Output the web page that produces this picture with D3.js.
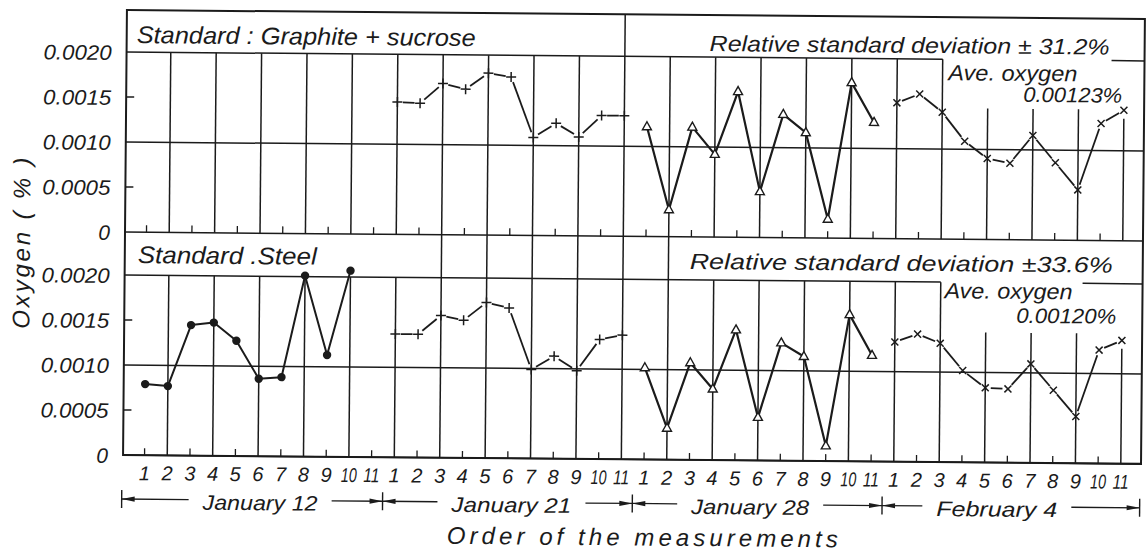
<!DOCTYPE html>
<html>
<head>
<meta charset="utf-8">
<script src="https://cdn.jsdelivr.net/npm/d3@7"></script>
<style>
  body { margin: 0; background: #fff; }
  text { font-family: "Liberation Sans", Arial, sans-serif; font-style: italic; fill: #1b1b1b; }
</style>
</head>
<body>
<svg id="chart" width="1146" height="552"></svg>
<script>
// ---- values ----
const groupNames = ["January 12", "January 21", "January 28", "February 4"];
const orderLabels = ["1","2","3","4","5","6","7","8","9","10","11"];
const yTickValues = [0, 0.0005, 0.0010, 0.0015, 0.0020];
const yTickLabels = ["0", "0.0005", "0.0010", "0.0015", "0.0020"];

// Standard: graphite + sucrose (top panel), no values on January 12
const graphiteJan21 = [0.00147, 0.00146, 0.00168, 0.00162, 0.00180, 0.00176, 0.00109, 0.00125, 0.00110, 0.00134, 0.00134];
const graphiteJan28 = [0.00122, 0.00030, 0.00122, 0.00092, 0.00162, 0.00051, 0.00137, 0.00117, 0.00021, 0.00173, 0.00129];
const graphiteFeb4  = [0.00151, 0.00161, 0.00141, 0.00109, 0.00090, 0.00085, 0.00116, 0.00086, 0.00056, 0.00130, 0.00145];

// Standard: steel (bottom panel), 11th on January 12 missing
const steelJan12 = [0.00079, 0.00077, 0.00145, 0.00148, 0.00128, 0.00086, 0.00088, 0.00201, 0.00113, 0.00207, null];
const steelJan21 = [0.00137, 0.00137, 0.00158, 0.00153, 0.00173, 0.00167, 0.00099, 0.00114, 0.00098, 0.00133, 0.00138];
const steelJan28 = [0.00102, 0.00035, 0.00108, 0.00079, 0.00145, 0.00048, 0.00131, 0.00116, 0.00017, 0.00163, 0.00118];
const steelFeb4  = [0.00133, 0.00142, 0.00132, 0.00102, 0.00083, 0.00082, 0.00110, 0.00081, 0.00052, 0.00126, 0.00137];

const panelTitles = ["Standard : Graphite + sucrose", "Standard .Steel"];
const deviationTexts = ["Relative standard deviation \u00b1 31.2%", "Relative standard deviation \u00b133.6%"];
const averageTexts = ["0.00123%", "0.00120%"];

// ---- layout ----
const L = 125, R = 1143, T = 10, B = 455;
const ink = "#1b1b1b";
const svg = d3.select("#chart");
svg.append("rect").attr("width", 1146).attr("height", 552).attr("fill", "#fff");

// the scan is turned a little clockwise
const g = svg.append("g").attr("transform", "rotate(0.5,125,232)");

const x = d3.scaleLinear().domain([1, 44]).range([146.5, 1122.8]);
const yTop = d3.scaleLinear().domain([0, 0.002]).range([232, 52]);
const yBot = d3.scaleLinear().domain([0, 0.002]).range([455, 275]);

const seg = (x1, y1, x2, y2, w) => g.append("line")
  .attr("x1", x1).attr("y1", y1).attr("x2", x2).attr("y2", y2)
  .attr("stroke", ink).attr("stroke-width", w || 1.5);

// frame
g.append("rect").attr("x", L).attr("y", T).attr("width", R - L).attr("height", B - T)
  .attr("fill", "none").attr("stroke", ink).attr("stroke-width", 2);

const panels = [
  { y: yTop, resume: 1110, vTop: k => [38, 40, 42].includes(k) ? 101 : k === 44 ? 110 : yTop(0.002),
    series: [
      { group: 1, marker: "plus", values: graphiteJan21 },
      { group: 2, marker: "tri", values: graphiteJan28 },
      { group: 3, marker: "cross", values: graphiteFeb4 } ] },
  { y: yBot, resume: 1083, vTop: k => (k >= 14 && k <= 24) ? 232 : [38, 40, 42].includes(k) ? 325 : k === 44 ? 340 : yBot(0.002),
    series: [
      { group: 0, marker: "dot", values: steelJan12 },
      { group: 1, marker: "plus", values: steelJan21 },
      { group: 2, marker: "tri", values: steelJan28 },
      { group: 3, marker: "cross", values: steelFeb4 } ] }
];

panels.forEach((p, pi) => {
  const y = p.y;
  // horizontal rules
  seg(L, y(0.002), x(36), y(0.002));
  seg(p.resume, y(0.002), R, y(0.002));
  seg(L, y(0.001), R, y(0.001));
  seg(L, y(0), R, y(0));
  [0.0005, 0.0015].forEach(v => seg(L, y(v), L + 8, y(v)));

  // vertical rules at even positions, small ticks at odd ones
  d3.range(1, 45).forEach(k => {
    if (k % 2 === 0) { if (k !== 22) seg(x(k), p.vTop(k), x(k), y(0)); }
    else seg(x(k), y(0), x(k), y(0) - 7, 1.3);
  });

  // y labels
  yTickValues.forEach((v, i) => {
    const t = g.append("text").attr("x", 110).attr("y", y(v) + 8)
      .attr("text-anchor", "end").attr("font-size", 21).text(yTickLabels[i]);
    if (yTickLabels[i].length > 1) t.attr("textLength", 68).attr("lengthAdjust", "spacingAndGlyphs");
  });

  // data
  p.series.forEach(s => {
    const pts = s.values.map((v, i) => v == null ? null : [x(s.group * 11 + i + 1), y(v)]).filter(d => d);
    if (s.marker === "dot" || s.marker === "tri") {
      g.append("path").attr("d", d3.line()(pts)).attr("fill", "none")
        .attr("stroke", ink).attr("stroke-width", s.marker === "tri" ? 2.2 : 2)
        .attr("stroke-linejoin", "round");
    } else {
      const gap = 5.5;
      d3.pairs(pts).forEach(([a, b]) => {
        const dx = b[0] - a[0], dy = b[1] - a[1], len = Math.hypot(dx, dy);
        const ux = dx / len, uy = dy / len;
        seg(a[0] + ux * gap, a[1] + uy * gap, b[0] - ux * gap, b[1] - uy * gap, 1.8);
      });
    }
    const m = g.selectAll(null).data(pts).enter();
    if (s.marker === "dot") {
      m.append("circle").attr("cx", d => d[0]).attr("cy", d => d[1]).attr("r", 4.2).attr("fill", ink);
    } else if (s.marker === "tri") {
      m.append("path").attr("transform", d => `translate(${d[0]},${d[1]})`)
        .attr("d", "M0,-5L4.5,3L-4.5,3Z").attr("fill", "#fff").attr("stroke", ink).attr("stroke-width", 1.4);
    } else if (s.marker === "plus") {
      m.append("path").attr("transform", d => `translate(${d[0]},${d[1]})`)
        .attr("d", "M-5,0H5M0,-5V5").attr("stroke", ink).attr("stroke-width", 1.5);
    } else {
      m.append("path").attr("transform", d => `translate(${d[0]},${d[1]})`)
        .attr("d", "M-3.5,-3.5L3.5,3.5M-3.5,3.5L3.5,-3.5").attr("stroke", ink).attr("stroke-width", 1.5);
    }
  });
});

// full-height divider between January 21 and January 28
seg(x(22), T, x(22), B);

// panel texts
const label = (tx, ty, str, size, len) => g.append("text").attr("x", tx).attr("y", ty)
  .attr("font-size", size).attr("textLength", len).attr("lengthAdjust", "spacingAndGlyphs").text(str);
label(135, 43, panelTitles[0], 24, 339);
label(138, 263, panelTitles[1], 24, 179);
label(708, 46, deviationTexts[0], 22, 400);
label(690, 264, deviationTexts[1], 22, 423);
label(947, 73, "Ave. oxygen", 22, 129);
label(945, 291, "Ave. oxygen", 22, 128);
label(1022, 94, averageTexts[0], 21, 99);
label(1017, 315, averageTexts[1], 21, 100);

// order numbers under the bottom panel
d3.range(44).forEach(i => {
  const t = g.append("text").attr("x", x(i + 1)).attr("y", 480).attr("text-anchor", "middle")
    .attr("font-size", 20).text(orderLabels[i % 11]);
  if (orderLabels[i % 11].length > 1) t.attr("textLength", 16).attr("lengthAdjust", "spacingAndGlyphs");
});

// date ranges with arrows
const bars = [124, x(11.5), x(22.5), x(33.5), 1142];
const ay = 499;
bars.forEach(b => seg(b, ay - 9, b, ay + 9, 1.4));
const dateWidths = [115, 120, 118, 121];
const dateNudge = [8, 4, -7, -14];
groupNames.forEach((name, i) => {
  const x0 = bars[i], x1 = bars[i + 1];
  const cx = (x0 + x1) / 2 + dateNudge[i];
  g.append("text").attr("x", cx).attr("y", 509).attr("text-anchor", "middle")
    .attr("font-size", 21).attr("textLength", dateWidths[i]).attr("lengthAdjust", "spacingAndGlyphs").text(name);
  seg(x0, ay, cx - dateWidths[i] / 2 - 14, ay, 1.3);
  seg(cx + dateWidths[i] / 2 + 14, ay, x1, ay, 1.3);
  g.append("path").attr("d", `M${x0},${ay}L${x0 + 13},${ay - 2.6}L${x0 + 13},${ay + 2.6}Z`).attr("fill", ink);
  g.append("path").attr("d", `M${x1},${ay}L${x1 - 13},${ay - 2.6}L${x1 - 13},${ay + 2.6}Z`).attr("fill", ink);
});

// axis titles
g.append("text").attr("x", 645).attr("y", 541).attr("text-anchor", "middle")
  .attr("font-size", 24).attr("textLength", 391).attr("lengthAdjust", "spacing").text("Order of the measurements");
g.append("text").attr("transform", "translate(30,244) rotate(-90)").attr("text-anchor", "middle")
  .attr("font-size", 24).attr("textLength", 171).attr("lengthAdjust", "spacing").text("Oxygen ( % )");
</script>
</body>
</html>
